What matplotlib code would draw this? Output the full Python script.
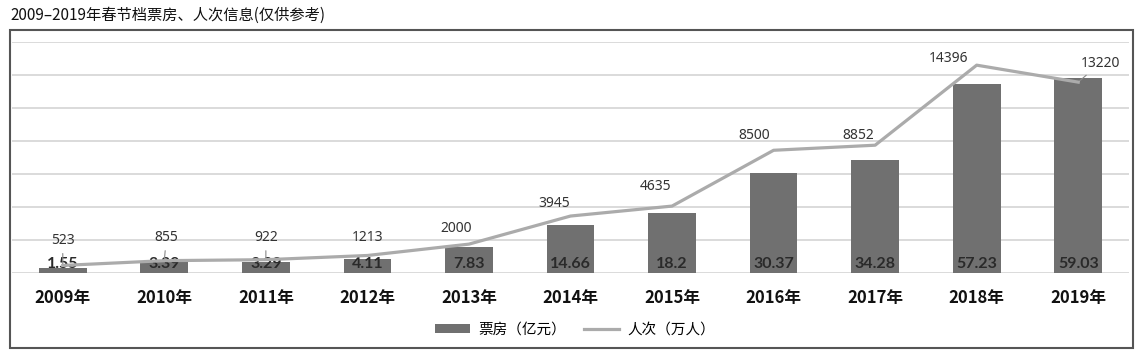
import numpy as np
import matplotlib
matplotlib.use("Agg")
import matplotlib.pyplot as plt
from matplotlib.patches import Rectangle
from matplotlib.lines import Line2D
from matplotlib.patches import Patch

plt.rcParams['font.family'] = ['Noto Sans CJK SC', 'DejaVu Sans']

# dados
anos = ['2009年', '2010年', '2011年', '2012年', '2013年', '2014年',
        '2015年', '2016年', '2017年', '2018年', '2019年']
bilheteria = [1.55, 3.39, 3.29, 4.11, 7.83, 14.66, 18.2, 30.37, 34.28, 57.23, 59.03]
publico = [523, 855, 922, 1213, 2000, 3945, 4635, 8500, 8852, 14396, 13220]

# deslocamento dos rótulos da linha (pixels) e se tem linha guia
desloc = [(0, 25), (2, 23), (0, 22), (0, 18), (-13, 16), (-16, 13),
          (-17, 20), (-19, 15), (-17, 10), (-28, 7), (22, 19)]
guia = [True, True, True, False, False, False, False, False, False, False, True]

cor_barra = '#707070'
cor_linha = '#ababab'

fig = plt.figure(figsize=(11.43, 3.62), dpi=100)
ax = fig.add_axes([12 / 1143, 1 - 273 / 362, 1117 / 1143, 231 / 362])
ax2 = ax.twinx()

x = np.arange(len(anos))
ax.bar(x, bilheteria, width=0.47, color=cor_barra, zorder=2)
ax.set_ylim(0, 70)
ax.set_xlim(-0.5, len(anos) - 0.5)
ax.set_yticks(np.arange(0, 71, 10))
ax.yaxis.grid(True, color='#d4d4d4', linewidth=1.2, zorder=0)
ax.set_axisbelow(True)
ax.tick_params(axis='y', left=False, labelleft=False)
ax.tick_params(axis='x', bottom=False, pad=8)
ax.set_xticks(x)
ax.set_xticklabels(anos, fontsize=12, fontweight='bold', color='#111111')
for s in ax.spines.values():
    s.set_visible(False)

for xi, v in zip(x, bilheteria):
    ax.text(xi, 2.6, f'{v:g}', ha='center', va='center', fontsize=11.5,
            fontweight='bold', color='#2a2a2a', family=['Lato', 'DejaVu Sans'], zorder=3)

ax2.plot(x, publico, color=cor_linha, linewidth=2.3, zorder=4)
ax2.set_ylim(0, 16000)
ax2.tick_params(axis='y', right=False, labelright=False)
for s in ax2.spines.values():
    s.set_visible(False)

for i, (xi, v) in enumerate(zip(x, publico)):
    props = dict(arrowstyle='-', color='#888888', lw=0.8, shrinkA=2, shrinkB=0) if guia[i] else None
    ax2.annotate(str(v), (xi, v), xytext=desloc[i], textcoords='offset pixels',
                 ha='center', va='center', fontsize=10, color='#333333',
                 family=['Noto Sans', 'DejaVu Sans'], arrowprops=props)

# legenda
itens = [Patch(facecolor=cor_barra, edgecolor='none'),
         Line2D([0], [0], color=cor_linha, linewidth=2.3)]
fig.legend(itens, ['票房（亿元）', '人次（万人）'], loc='center',
           bbox_to_anchor=(575 / 1143, 1 - 330 / 362), ncol=2, frameon=False,
           fontsize=10.5, handlelength=2.4, handleheight=0.6, columnspacing=1.2,
           handletextpad=0.6)

fig.text(10 / 1143, 1 - 15 / 362, '2009–2019年春节档票房、人次信息(仅供参考)',
         fontsize=11, ha='left', va='center', color='#111111')

fig.patches.append(Rectangle((10 / 1143, 1 - 348 / 362), 1123 / 1143, 318 / 362,
                             transform=fig.transFigure, fill=False,
                             edgecolor='#555555', linewidth=1.5))

fig.savefig('out.png', dpi=100)
